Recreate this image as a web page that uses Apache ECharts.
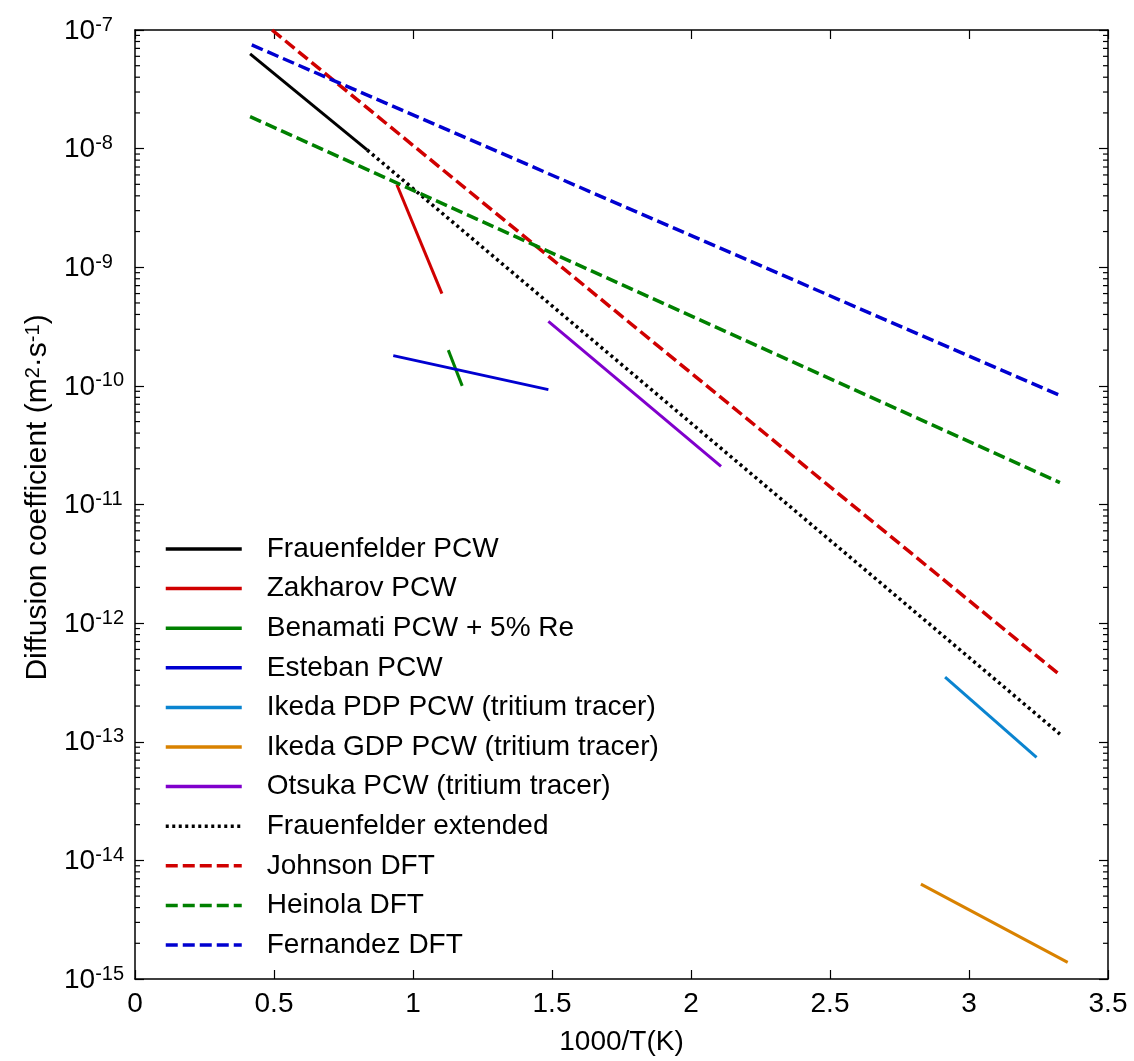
<!DOCTYPE html>
<html>
<head>
<meta charset="utf-8">
<script src="https://cdn.jsdelivr.net/npm/echarts@6/dist/echarts.min.js"></script>
<style>
html,body{margin:0;padding:0;background:#fff;}
#chart{width:1134px;height:1061px;}
</style>
</head>
<body>
<div id="chart"></div>
<script>
// ---- data (x = 1000/T in 1/K, y = diffusion coefficient m^2/s) ----
var seriesNames = [
  'Frauenfelder PCW', 'Zakharov PCW', 'Benamati PCW + 5% Re', 'Esteban PCW',
  'Ikeda PDP PCW (tritium tracer)', 'Ikeda GDP PCW (tritium tracer)',
  'Otsuka PCW (tritium tracer)', 'Frauenfelder extended', 'Johnson DFT',
  'Heinola DFT', 'Fernandez DFT'
];
var frauenfelderPCW   = [[0.414, 6.3e-8], [0.835, 9.75e-9]];
var zakharovPCW       = [[0.942, 4.96e-9], [1.104, 6.0e-10]];
var benamatiPCW       = [[1.127, 2.0e-10], [1.177, 1.0e-10]];
var estebanPCW        = [[0.929, 1.8e-10], [1.487, 9.3e-11]];
var ikedaPDP          = [[2.914, 3.5e-13], [3.243, 7.4e-14]];
var ikedaGDP          = [[2.827, 6.3e-15], [3.355, 1.38e-15]];
var otsukaPCW         = [[1.487, 3.5e-10], [2.108, 2.1e-11]];
var frauenfelderExt   = [[0.835, 9.75e-9], [3.327, 1.16e-13]];
var johnsonDFT        = [[0.493, 1.0e-7], [3.327, 3.66e-13]];
var heinolaDFT        = [[0.414, 1.86e-8], [3.327, 1.53e-11]];
var fernandezDFT      = [[0.420, 7.48e-8], [3.327, 8.3e-11]];

var xTicks = [0, 0.5, 1, 1.5, 2, 2.5, 3, 3.5];
var yExponents = [-15, -14, -13, -12, -11, -10, -9, -8, -7];
var minorMultipliers = [2, 3, 4, 5, 6, 7, 8, 9];

// ---- styles ----
var FONT = "'Liberation Sans', Arial, Helvetica, sans-serif";
var C = {
  black: '#000000', red: '#d00000', green: '#008000', blue: '#0000d0',
  lblue: '#0a84d0', orange: '#d98200', purple: '#8000cc'
};

function lineSeries(name, data, color, type, width) {
  return {
    name: name, type: 'line', data: data, symbol: 'none',
    xAxisIndex: 0, yAxisIndex: 0, clip: true,
    lineStyle: { color: color, width: width, type: type, cap: 'butt' },
    itemStyle: { color: color },
    z: 3
  };
}
var dash = [12, 5];
var dot = [3, 3.5];

var minorTickValues = [];
yExponents.slice(0, -1).forEach(function (e) {
  minorMultipliers.forEach(function (m) { minorTickValues.push(m * Math.pow(10, e)); });
});

var series = [
  lineSeries(seriesNames[0], frauenfelderPCW, C.black, 'solid', 3),
  lineSeries(seriesNames[1], zakharovPCW, C.red, 'solid', 3),
  lineSeries(seriesNames[2], benamatiPCW, C.green, 'solid', 3),
  lineSeries(seriesNames[3], estebanPCW, C.blue, 'solid', 3),
  lineSeries(seriesNames[4], ikedaPDP, C.lblue, 'solid', 3),
  lineSeries(seriesNames[5], ikedaGDP, C.orange, 'solid', 3),
  lineSeries(seriesNames[6], otsukaPCW, C.purple, 'solid', 3),
  lineSeries(seriesNames[7], frauenfelderExt, C.black, dot, 3.5),
  lineSeries(seriesNames[8], johnsonDFT, C.red, dash, 3.5),
  lineSeries(seriesNames[9], heinolaDFT, C.green, dash, 3.5),
  lineSeries(seriesNames[10], fernandezDFT, C.blue, dash, 3.5),
  {
    name: 'minorTicks', type: 'custom', xAxisIndex: 0, yAxisIndex: 0,
    data: minorTickValues.map(function (v) { return [v]; }),
    silent: true, clip: false, z: 5,
    renderItem: function (params, api) {
      var v = api.value(0);
      var pl = api.coord([0, v]);
      var pr = api.coord([3.5, v]);
      return {
        type: 'group',
        children: [
          { type: 'line', shape: { x1: pl[0], y1: pl[1], x2: pl[0] + 5, y2: pl[1] },
            style: { stroke: '#000', lineWidth: 1.2 } },
          { type: 'line', shape: { x1: pr[0], y1: pr[1], x2: pr[0] - 5, y2: pr[1] },
            style: { stroke: '#000', lineWidth: 1.2 } }
        ]
      };
    }
  }
];

var yLabelRich = {
  b: { fontSize: 28, fontFamily: FONT, color: '#000', lineHeight: 30, padding: [16, 0, 0, 0], verticalAlign: 'bottom' },
  s: { fontSize: 20, fontFamily: FONT, color: '#000', lineHeight: 22, verticalAlign: 'top' }
};

var axisLineStyle = { show: true, onZero: false, lineStyle: { color: '#000', width: 1.5 } };
var axisTickStyle = { show: true, inside: true, length: 9, lineStyle: { color: '#000', width: 1.2 } };

var option = {
  animation: false,
  backgroundColor: '#ffffff',
  textStyle: { fontFamily: FONT },
  grid: { left: 135, right: 26, top: 30, bottom: 81, containLabel: false },
  legend: {
    data: seriesNames,
    orient: 'vertical',
    left: 164, top: 535, padding: 0,
    itemWidth: 76, itemHeight: 14, itemGap: 11.6,
    itemStyle: { opacity: 0, borderWidth: 0 },
    lineStyle: { width: 3.5 },
    textStyle: { fontSize: 28, fontFamily: FONT, color: '#000', lineHeight: 28, padding: [0, 0, 0, 20] },
    backgroundColor: 'transparent',
    selectedMode: false
  },
  xAxis: [
    {
      type: 'value', min: 0, max: 3.5, interval: 0.5, position: 'bottom',
      name: '1000/T(K)', nameLocation: 'middle', nameGap: 49,
      nameTextStyle: { fontSize: 28, fontFamily: FONT, color: '#000' },
      axisLine: axisLineStyle, axisTick: axisTickStyle,
      axisLabel: {
        fontSize: 28, fontFamily: FONT, color: '#000', margin: 11,
        formatter: function (v) {
          var i = xTicks.indexOf(Math.round(v * 10) / 10);
          return i >= 0 ? String(xTicks[i]) : '';
        }
      },
      splitLine: { show: false }
    },
    {
      type: 'value', min: 0, max: 3.5, interval: 0.5, position: 'top',
      axisLine: axisLineStyle, axisTick: axisTickStyle,
      axisLabel: { show: false }, splitLine: { show: false }
    }
  ],
  yAxis: [
    {
      type: 'log', logBase: 10, min: 1e-15, max: 1e-7, interval: 1, position: 'left',
      name: '{n|Diffusion coefficient (m}{sup|2}{n|·s}{sup|-1}{n|)}',
      nameLocation: 'middle', nameGap: 82, nameRotate: 90,
      nameTextStyle: {
        color: '#000', padding: [0, 0, 0, 14],
        rich: {
          n: { fontSize: 30, fontFamily: FONT, color: '#000', lineHeight: 30, padding: [14, 0, 0, 0], verticalAlign: 'bottom' },
          sup: { fontSize: 20, fontFamily: FONT, color: '#000', lineHeight: 20, verticalAlign: 'top' }
        }
      },
      axisLine: axisLineStyle, axisTick: axisTickStyle,
      axisLabel: {
        margin: 71, align: 'left', verticalAlign: 'middle',
        formatter: function (v) {
          var e = Math.round(Math.log(v) / Math.LN10);
          if (yExponents.indexOf(e) < 0) return '';
          return '{b|10}{s|' + e + '}';
        },
        rich: yLabelRich
      },
      splitLine: { show: false }, minorTick: { show: false }
    },
    {
      type: 'log', logBase: 10, min: 1e-15, max: 1e-7, interval: 1, position: 'right',
      axisLine: axisLineStyle, axisTick: axisTickStyle,
      axisLabel: { show: false }, splitLine: { show: false }
    }
  ],
  series: series
};

var chart = echarts.init(document.getElementById('chart'), null, { renderer: 'canvas' });
chart.setOption(option);
</script>
</body>
</html>
